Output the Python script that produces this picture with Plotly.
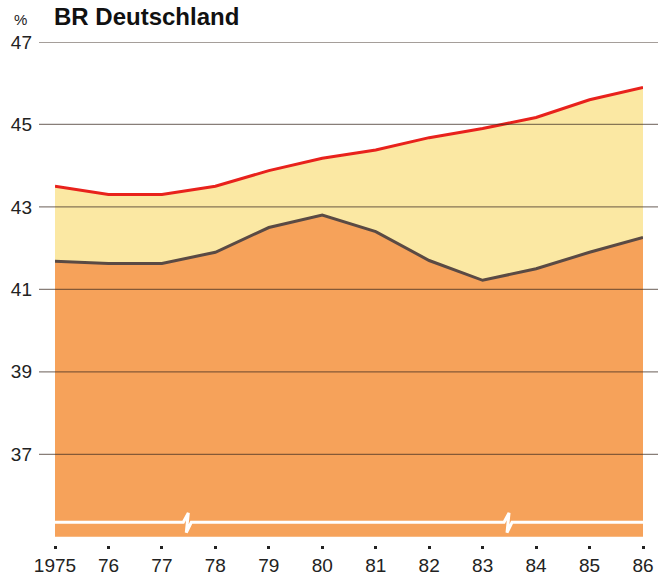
import plotly.graph_objects as go

# ---- data ----
years = [1975, 1976, 1977, 1978, 1979, 1980, 1981, 1982, 1983, 1984, 1985, 1986]
year_labels = ["1975", "76", "77", "78", "79", "80", "81", "82", "83", "84", "85", "86"]
upper_values = [43.5, 43.3, 43.3, 43.5, 43.88, 44.18, 44.38, 44.68, 44.9, 45.17, 45.6, 45.9]
lower_values = [41.68, 41.63, 41.63, 41.9, 42.5, 42.8, 42.4, 41.7, 41.22, 41.5, 41.9, 42.26]
y_ticks = [37, 39, 41, 43, 45, 47]
base_value = 35
break_years = [1977.4, 1983.4]

FONT = "Liberation Sans, Arial, Helvetica, sans-serif"
ORANGE = "#F6A25A"
YELLOW = "#FBE8A3"
RED = "#E8221C"
DARK = "#5A4A44"

fig = go.Figure()
# baseline (invisible)
fig.add_trace(go.Scatter(x=years, y=[base_value] * len(years), mode="lines",
                         line=dict(width=0, color=ORANGE), hoverinfo="skip", showlegend=False))
# lower band
fig.add_trace(go.Scatter(x=years, y=lower_values, mode="lines", fill="tonexty",
                         fillcolor=ORANGE, line=dict(color=DARK, width=3), showlegend=False))
# upper band
fig.add_trace(go.Scatter(x=years, y=upper_values, mode="lines", fill="tonexty",
                         fillcolor=YELLOW, line=dict(color=RED, width=3), showlegend=False))

shapes = []
# grid lines drawn above the fills
for t in y_ticks:
    shapes.append(dict(type="line", xref="paper", yref="y", x0=-0.0272, x1=1.03, y0=t, y1=t,
                       line=dict(color="#3a2a20", width=1.3), opacity=0.6, layer="above"))

# axis break symbol (white line with zigzags)
by = base_value + 0.35
path = f"M {years[0]},{by}"
for b in break_years:
    path += (f" L {b},{by} L {b + 0.094},{by + 0.23} L {b + 0.056},{by - 0.25}"
             f" L {b + 0.15},{by}")
path += f" L {years[-1]},{by}"
shapes.append(dict(type="path", xref="x", yref="y", path=path,
                   line=dict(color="white", width=3), layer="above"))

fig.update_layout(
    width=658, height=578,
    margin=dict(l=55, r=15, t=42, b=33),
    paper_bgcolor="white", plot_bgcolor="white",
    shapes=shapes,
    font=dict(family=FONT, color="#222222"),
    xaxis=dict(range=[years[0], years[-1]], tickvals=years, ticktext=year_labels,
               showgrid=False, zeroline=False, showline=False, automargin=False,
               ticks="outside", ticklen=3, tickwidth=3, tickcolor="#222222",
               tickfont=dict(size=19, family=FONT, color="#222222"),
               ticklabelstandoff=0),
    yaxis=dict(range=[34.8, 47], tickvals=y_ticks, ticktext=[str(t) for t in y_ticks],
               showgrid=False, zeroline=False, showline=False, ticks="", automargin=False,
               tickfont=dict(size=19, family=FONT, color="#222222"),
               ticklabelstandoff=22),
    annotations=[
        dict(text="<b>BR Deutschland</b>", xref="paper", yref="paper", x=-0.005, y=1.0507,
             xanchor="left", yanchor="middle", showarrow=False,
             font=dict(size=24, family=FONT, color="#111111")),
        dict(text="%", xref="paper", yref="paper", x=-0.0595, y=1.0457,
             xanchor="center", yanchor="middle", showarrow=False,
             font=dict(size=15, family=FONT, color="#222222")),
    ],
)

fig.write_html("out.html", config={"displayModeBar": False},
               post_script="document.body.style.margin='0px';document.body.style.overflow='hidden';")
